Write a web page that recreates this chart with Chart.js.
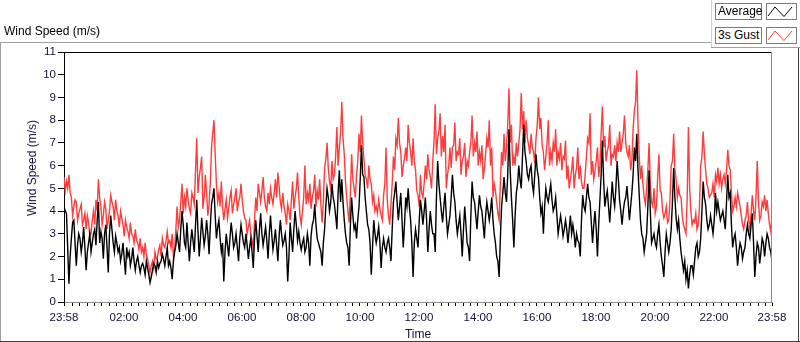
<!DOCTYPE html>
<html><head><meta charset="utf-8">
<script src="https://cdn.jsdelivr.net/npm/chart.js@4/dist/chart.umd.min.js"></script>
<style>
html,body{margin:0;padding:0;background:#fff;}
#wrap{position:relative;width:800px;height:342px;overflow:hidden;font-family:"Liberation Sans",Arial,sans-serif;color:#000;}
#c{position:absolute;left:0;top:0;}
.abs{position:absolute;}
.lbox{position:absolute;left:715px;width:47px;height:17px;border:1px solid #7a7a7a;background:#fff;font-size:12px;line-height:15px;padding-left:2px;box-sizing:border-box;white-space:nowrap;}
.sw{position:absolute;left:766px;width:31px;height:17px;border:1px solid #7a7a7a;background:#fff;box-sizing:border-box;}
</style></head>
<body>
<div id="wrap">
<canvas id="c" width="800" height="342"></canvas>
<div class="abs" style="left:4px;top:24px;font-size:12px;">Wind Speed (m/s)</div>
<div class="abs" style="left:0;top:42px;width:711px;height:1px;background:#a0a0a0;"></div>
<div class="abs" style="left:0;top:42px;width:1px;height:300px;background:#a0a0a0;"></div>
<div class="abs" style="left:711px;top:0;width:1px;height:48px;background:#d0d0d0;"></div>
<div class="abs" style="left:711px;top:47px;width:89px;height:1px;background:#a0a0a0;"></div>
<div class="abs" style="left:798px;top:48px;width:1px;height:294px;background:#404040;"></div>
<div class="abs" style="left:0;top:341px;width:800px;height:1px;background:#404040;"></div>
<div class="abs" style="top:168px;left:32px;font-size:12px;transform:translate(-50%,-50%) rotate(-90deg);transform-origin:center;white-space:nowrap;color:#111133;">Wind Speed (m/s)</div>
<div class="lbox" style="top:3px;">Average</div>
<div class="sw" style="top:3px;"><svg width="29" height="15"><polyline points="1,12 8,3 17,12.5 25,3" fill="none" stroke="#000" stroke-width="1"/></svg></div>
<div class="lbox" style="top:27px;">3s Gust</div>
<div class="sw" style="top:27px;"><svg width="29" height="15"><polyline points="1,12 8,3 17,12.5 25,3" fill="none" stroke="#ff4040" stroke-width="1"/></svg></div>
</div>
<script>
// readings every 5 minutes from 23:58, plus in-between readings (+2.5 min)
const avgSpeed = [
4.2,3.9,0.8,2.8,3.6,1.6,3.0,2.2,3.3,1.4,
2.6,2.2,3.0,2.5,4.4,3.1,1.9,3.4,1.3,3.8,
2.6,2.9,2.2,1.8,2.6,1.2,2.0,1.6,2.4,1.4,
2.0,1.3,1.7,1.2,1.5,0.85,1.4,1.6,1.8,1.7,
2.1,1.6,2.4,1.8,1.0,2.2,3.0,2.2,4.0,2.6,
3.5,1.8,3.2,2.2,4.5,2.0,3.7,2.5,3.6,2.1,
4.3,5.0,2.8,3.6,2.2,0.9,3.0,2.0,3.5,2.4,
3.0,1.8,3.4,2.6,3.0,1.9,2.8,1.5,3.6,2.2,
3.9,2.5,3.3,1.9,3.8,2.3,3.2,1.8,3.6,2.5,
3.0,0.9,3.5,2.2,4.0,2.7,2.6,
2.6,2.2,3.0,1.6,3.4,4.3,2.8,2.4,1.6,3.2,
5.0,4.0,5.2,4.3,3.2,5.8,5.4,3.6,2.6,1.6,
4.6,3.2,2.8,4.2,6.9,5.5,4.0,3.2,1.2,3.6,
2.6,3.3,1.5,2.8,2.2,2.8,1.8,4.4,5.3,3.6,
4.8,2.4,4.6,5.0,3.6,1.1,3.2,2.4,4.5,3.4,
4.6,2.2,4.0,3.0,2.2,6.2,4.6,3.5,4.8,3.0,
3.8,5.6,4.4,3.0,3.8,2.0,4.2,2.6,1.8,5.3,
4.4,3.2,4.7,4.0,2.8,4.4,3.6,4.6,3.0,2.0,
1.1,4.2,5.5,4.4,7.6,4.6,2.4,4.8,6.0,5.0,
7.8,6.2,5.4,6.0,4.8,6.5,
5.5,3.9,3.0,5.0,4.4,5.2,4.0,4.6,3.0,3.8,
2.9,3.6,2.6,3.8,3.4,2.4,2.7,2.0,4.7,4.0,
5.2,4.4,2.6,4.0,2.0,4.5,7.1,4.2,4.9,3.5,
5.3,4.2,6.2,4.5,3.4,4.4,5.1,3.6,4.8,6.8,
7.4,4.7,3.0,2.2,3.0,5.8,2.6,3.0,2.4,3.4,
2.0,1.1,3.0,2.2,3.2,5.9,3.7,3.6,2.2,1.4,
1.0,0.6,1.6,1.2,2.4,2.0,2.8,5.3,4.3,3.2,
3.8,3.0,4.8,4.4,3.6,4.0,3.2,5.6,4.8,2.4,
3.0,1.6,2.6,1.9,2.4,3.4,2.8,3.9,1.1,2.6,
1.7,2.8,2.0,3.0,2.4,1.8
];
const avgSpeedMid = [
4.0,2.4,2.0,3.5,2.6,2.5,2.8,2.6,2.4,2.2,
3.0,2.6,3.2,3.6,2.6,2.8,3.0,2.4,3.0,3.2,
2.2,2.6,2.4,2.1,1.9,2.4,2.2,1.9,1.8,1.8,
1.6,1.6,1.5,1.8,1.2,1.1,1.7,1.3,1.5,1.8,
1.9,2.0,1.6,1.5,1.8,2.5,2.6,3.2,3.4,2.4,
2.6,2.6,2.7,3.4,3.1,2.8,3.1,2.9,3.0,3.3,
4.6,3.8,3.3,2.8,2.6,2.2,2.5,2.8,3.0,2.6,
2.4,2.8,3.0,2.4,2.5,2.4,2.2,2.8,2.9,3.2,
3.0,2.9,2.7,3.0,3.0,2.7,2.5,2.9,3.0,2.7,
2.4,2.0,2.8,3.2,3.4,3.1,
2.3,2.8,2.4,2.6,2.9,3.6,3.4,2.6,2.2,2.6,
4.2,4.6,4.4,4.6,3.8,4.8,4.4,4.4,3.0,2.4,
3.4,3.8,3.4,3.6,5.4,5.6,4.6,3.4,2.6,2.4,
3.0,2.9,2.6,2.4,2.4,2.6,2.4,3.2,4.8,4.4,
4.2,3.6,3.4,4.2,4.2,2.6,2.6,2.8,3.6,4.0,
4.0,3.6,3.2,3.4,3.0,4.6,5.2,4.0,4.2,3.8,
3.4,4.6,4.8,3.6,3.4,3.0,3.2,3.4,2.4,3.8,
4.6,3.8,4.0,4.2,3.4,3.8,4.0,4.0,3.6,2.6,
1.8,2.8,4.8,4.8,5.6,5.8,3.6,3.8,5.2,5.4,
6.4,6.6,5.6,5.8,5.2,5.6,5.8,4.6,4.2,4.2,
4.6,4.8,4.5,4.2,3.8,3.4,3.4,3.2,3.2,3.2,
3.0,3.0,3.0,2.6,3.6,4.2,4.6,4.6,3.5,3.4,
3.2,3.4,5.6,5.4,4.6,4.2,4.4,4.6,5.0,5.4,
4.0,4.0,4.6,4.4,4.2,5.6,6.2,5.8,3.6,2.8,
2.6,4.2,4.0,2.8,2.6,3.0,2.6,1.6,2.2,2.6,
2.6,4.4,4.6,3.2,2.8,1.8,1.8,1.4,1.2,1.6,
1.8,2.6,2.2,4.0,4.6,3.6,3.4,3.4,3.6,4.0,
4.0,3.8,3.6,4.4,4.6,3.4,2.8,2.4,2.2,2.4,
2.2,3.0,3.0,3.4,2.6,2.0,2.4,2.2,2.6,2.6,2.8,2.2
];
const gustSpeed = [
5.5,5.3,5.6,4.6,4.2,4.4,3.9,4.3,3.6,3.2,
3.5,3.0,4.0,4.5,5.4,4.2,3.8,4.1,3.6,4.7,
4.2,4.5,3.8,4.0,3.4,3.6,3.1,3.5,2.9,3.2,
2.6,2.8,2.4,2.6,1.9,1.3,1.8,2.2,2.0,2.5,
2.8,2.4,3.1,2.7,3.0,2.3,4.2,3.6,5.2,4.6,
5.0,4.1,4.8,4.3,7.2,5.5,6.4,4.6,4.8,4.3,
6.8,8.0,5.2,4.8,5.3,3.6,4.5,4.1,4.9,4.3,
5.0,4.4,5.2,4.0,3.6,3.3,3.0,2.4,4.6,5.2,
4.4,5.5,4.2,4.8,5.0,4.3,5.4,5.7,4.4,4.8,
3.9,4.3,3.6,5.3,4.6,5.7,3.8,
4.0,6.0,4.8,5.2,4.6,5.6,4.9,5.4,3.5,5.9,
7.0,5.3,6.2,5.6,7.7,6.8,8.8,6.5,4.6,3.5,
6.5,5.0,5.6,7.4,8.2,6.3,5.4,6.0,5.2,4.7,
4.2,4.5,3.8,4.7,6.8,3.8,4.3,6.4,7.2,8.1,
6.6,6.0,6.8,7.8,6.6,7.2,5.8,4.7,5.6,4.6,
6.0,6.5,5.5,6.2,8.7,7.2,8.3,7.3,7.8,5.6,
6.8,6.8,7.9,6.6,7.2,6.2,7.0,6.2,6.6,8.2,
7.0,7.5,6.6,6.9,5.9,7.2,8.0,6.8,5.2,4.4,
3.6,6.6,7.4,6.8,9.4,7.8,6.4,7.0,7.0,9.2,
8.4,8.0,6.9,7.4,6.6,7.2,
9.0,8.1,6.6,6.4,8.0,6.6,7.0,7.6,6.6,7.0,
6.4,7.1,6.0,5.4,6.4,5.6,6.8,6.0,5.0,5.6,
7.2,8.3,6.2,5.8,6.8,6.0,8.6,7.3,6.6,7.8,
6.5,6.9,7.0,7.5,7.0,8.2,6.6,6.9,6.2,8.4,
10.2,6.4,6.0,4.6,5.0,7.0,4.4,5.0,4.2,6.5,
4.8,3.7,4.2,3.6,6.0,7.4,5.4,5.0,4.6,3.4,
3.0,7.7,4.0,3.6,3.9,3.4,6.0,7.5,5.8,5.0,
4.7,5.2,5.6,5.9,5.6,5.4,5.2,6.7,5.8,4.0,
4.6,4.8,4.2,3.4,3.6,4.4,3.2,4.7,3.6,6.2,
3.6,4.4,4.7,4.5,3.4,3.8
];
const gustSpeedMid = [
4.9,5.0,4.8,3.8,4.5,3.6,4.1,3.4,3.9,3.8,
2.9,3.6,3.4,4.0,4.6,3.4,4.4,3.2,4.0,4.4,
3.6,4.0,3.3,3.7,2.9,3.3,2.8,3.0,2.6,2.7,
2.3,2.2,2.0,2.1,1.6,1.6,1.5,1.9,2.3,2.0,
2.5,2.7,2.6,2.4,2.0,3.2,3.3,4.4,3.9,4.2,
4.5,3.9,4.6,5.8,4.8,5.9,4.1,5.6,3.8,5.2,
7.4,6.5,4.4,4.2,4.2,4.1,3.7,4.6,3.9,4.6,
4.0,4.6,4.5,3.7,3.0,3.6,2.7,3.6,4.0,4.8,
4.9,4.6,4.0,4.3,4.6,4.8,4.6,5.1,4.1,4.2,
3.4,4.0,4.5,4.1,5.0,4.6,
3.4,4.6,4.3,4.5,4.1,4.9,4.2,4.5,4.3,4.4,
6.3,5.9,5.0,5.4,6.4,6.0,7.4,7.2,5.3,4.0,
4.8,5.4,4.6,6.2,6.6,7.0,5.6,5.0,5.4,4.4,
4.0,3.9,4.1,3.6,5.2,4.5,3.4,5.2,5.8,6.9,
7.0,5.5,6.3,6.2,7.0,6.0,6.2,4.9,4.2,4.8,
5.2,5.4,5.8,5.0,7.0,6.5,7.5,6.4,6.6,5.0,
6.0,5.9,6.9,6.2,6.5,5.6,6.4,5.5,6.0,7.0,
6.4,6.6,6.0,6.2,5.4,6.5,6.8,6.0,4.6,4.9,
3.9,5.2,6.0,6.2,7.8,7.0,6.0,6.0,6.4,7.6,
7.6,7.0,7.2,6.5,6.8,6.1,7.8,7.6,6.9,5.8,
7.0,6.0,6.2,6.6,6.0,6.3,5.8,6.3,5.4,5.0,
5.8,5.0,5.9,5.4,5.3,5.0,6.4,7.0,5.6,5.4,
6.2,5.5,7.4,6.8,6.2,6.9,6.0,6.4,6.2,6.6,
6.6,7.4,7.0,6.4,5.8,7.6,8.8,7.8,5.4,5.2,
4.3,5.8,5.2,4.2,3.9,5.5,4.9,4.0,3.9,3.5,
4.5,6.2,5.8,4.6,4.7,3.8,3.2,4.6,5.0,3.4,
3.5,3.2,4.2,6.4,6.5,5.2,4.6,4.8,4.6,5.3,
5.2,5.0,5.6,5.8,6.0,4.8,4.2,4.2,4.5,3.8,
3.2,3.8,3.6,3.9,4.0,4.6,4.4,3.8,4.2,4.0,3.9,3.1
];
const sampleStep = 5; // minutes between main readings
const tickMinutes = [0,122,242,362,482,602,722,842,962,1082,1202,1322,1440];
const tickLabels = ['23:58','02:00','04:00','06:00','08:00','10:00','12:00','14:00','16:00','18:00','20:00','22:00','23:58'];
const yTicks = [0,1,2,3,4,5,6,7,8,9,10,11];

function buildSeries(main, mid) {
  const pts = [];
  main.forEach((v, i) => {
    pts.push({x: i * sampleStep, y: v});
    if (i < mid.length) pts.push({x: i * sampleStep + sampleStep / 2, y: mid[i]});
  });
  return pts;
}

const frame = {
  id: 'frame',
  afterDraw(chart) {
    const {ctx, chartArea: a} = chart;
    ctx.save();
    ctx.lineWidth = 1;
    ctx.strokeStyle = '#000';
    ctx.beginPath(); ctx.moveTo(a.left, a.top + 0.5); ctx.lineTo(a.right, a.top + 0.5); ctx.stroke();
    ctx.strokeStyle = '#8a8a8a';
    ctx.beginPath(); ctx.moveTo(a.right - 0.5, a.top); ctx.lineTo(a.right - 0.5, a.bottom); ctx.stroke();
    ctx.restore();
  }
};

const tickFont = {family: '"Liberation Sans", Arial, sans-serif', size: 11.5};
new Chart(document.getElementById('c'), {
  type: 'line',
  data: {
    datasets: [
      {label: 'Average', data: buildSeries(avgSpeed, avgSpeedMid), borderColor: '#000', borderWidth: 1.4, pointRadius: 0, tension: 0},
      {label: '3s Gust', data: buildSeries(gustSpeed, gustSpeedMid), borderColor: '#ff3c3c', borderWidth: 1.4, pointRadius: 0, tension: 0}
    ]
  },
  options: {
    responsive: false, animation: false, events: [],
    layout: {padding: {left: 0, right: 28, top: 52, bottom: 0}},
    plugins: {legend: {display: false}, tooltip: {enabled: false}, title: {display: false}},
    scales: {
      x: {
        type: 'linear', min: 0, max: 1440,
        afterBuildTicks(s) {
          const vals = new Set(tickMinutes);
          for (let m = 2; m < 1440; m += 15) vals.add(m);
          s.ticks = [...vals].sort((a, b) => a - b).map(v => ({value: v}));
        },
        afterFit(s) { s.height = 40; },
        ticks: {
          autoSkip: false, maxRotation: 0, padding: 5, color: '#111133', font: tickFont,
          callback(v) { const k = tickMinutes.indexOf(v); return k >= 0 ? tickLabels[k] : ''; }
        },
        grid: {drawOnChartArea: false, drawTicks: true, tickLength: 4, tickColor: '#000'},
        border: {color: '#8a8a8a', width: 1},
        title: {display: true, text: 'Time', color: '#111133', font: {family: '"Liberation Sans", Arial, sans-serif', size: 12}, padding: {top: 0, bottom: 0}}
      },
      y: {
        min: 0, max: 11,
        afterBuildTicks(s) { s.ticks = yTicks.map(v => ({value: v})); },
        afterFit(s) { s.width = 64; },
        ticks: {padding: 2, color: '#111133', font: tickFont},
        grid: {drawOnChartArea: false, drawTicks: true, tickLength: 6, tickColor: '#000'},
        border: {color: '#000', width: 1}
      }
    }
  },
  plugins: [frame]
});
</script>
</body></html>
